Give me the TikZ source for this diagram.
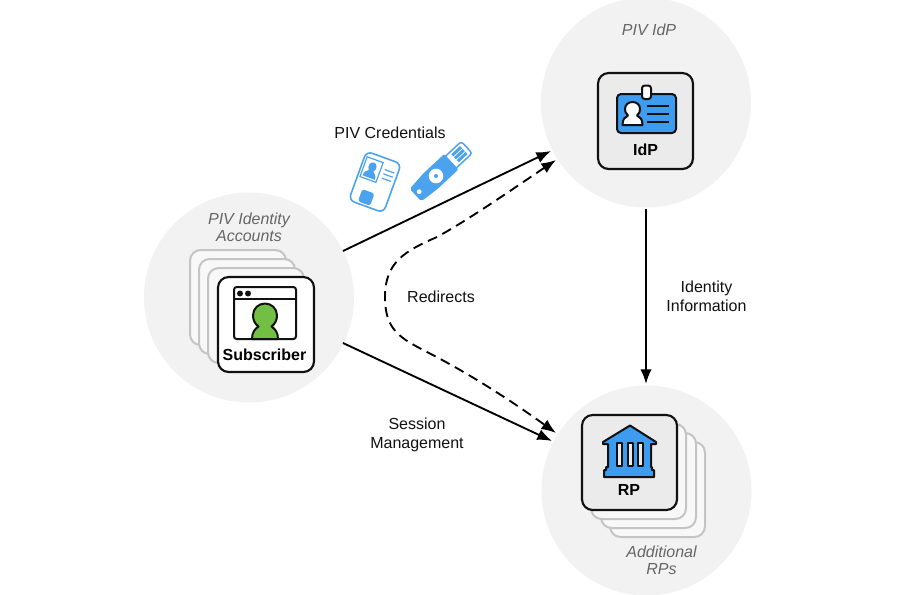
\documentclass[tikz,border=0pt]{standalone}
\usepackage{fontspec}
\setmainfont{Liberation Sans}
\usetikzlibrary{arrows.meta}
\definecolor{halo}{HTML}{F2F2F2}
\definecolor{stack}{HTML}{C4C4C4}
\definecolor{stackfill}{HTML}{F8F8F8}
\definecolor{azure}{HTML}{3D9BF0}
\definecolor{sky}{HTML}{4BA3EE}
\definecolor{leaf}{HTML}{72BF44}
\definecolor{panel}{HTML}{EBEBEB}
\definecolor{ink}{HTML}{111111}
\definecolor{note}{HTML}{666666}
\tikzset{
  x=0.75pt,y=-0.75pt,
  halo/.style={circle,fill=halo,minimum size=157.5pt,inner sep=0pt},
  back/.style={draw=stack,line width=1.5pt,fill=stackfill,rounded corners=8pt},
  front/.style={draw=ink,line width=1.6pt,rounded corners=8pt},
  lbl/.style={font=\fontsize{12}{14.25}\selectfont,align=center,text=ink},
  role/.style={font=\fontsize{12}{12.6}\selectfont\itshape,align=center,text=note},
  boxname/.style={font=\fontsize{12}{14}\selectfont\bfseries,text=black},
  link/.style={draw=black,line width=1.4pt,-{Latex[length=11pt,width=8.5pt]}},
  dlink/.style={link,{Latex[length=11pt,width=8.5pt]}-{Latex[length=11pt,width=8.5pt]},dash pattern=on 7.5pt off 4.5pt},
  icon/.style={draw=ink,line width=1.5pt,line join=round},
  cred/.style={draw=sky,line width=.9pt},
}
\begin{document}
\begin{tikzpicture}
\useasboundingbox (0,0) rectangle (900,594);
\fill[white] (0,0) rectangle (900,594);
\node[halo] (hsub) at (249,297.5) {};
\node[halo] (hidp) at (646,102.5) {};
\node[halo] (hrp) at (646.5,490.5) {};
% subscriber stack
\draw[back] (190,250) rectangle (286,345);
\draw[back] (199,259) rectangle (295,354);
\draw[back] (208,268) rectangle (304,363);
\draw[front,fill=white] (218,277) rectangle (314,372);
\draw[icon,fill=white,rounded corners=2pt] (234,287) rectangle (296,339);
\draw[icon] (234,299) -- (296,299);
\fill[ink] (240,293.5) circle (3) (248,293.5) circle (3);
\draw[icon,fill=leaf] (252,339) .. controls (252,332) and (255,329) .. (258.5,326.5)
  .. controls (255,324) and (253,320) .. (253,315.5) .. controls (253,308.5) and (258.5,303.5) .. (265,303.5)
  .. controls (271.5,303.5) and (277,308.5) .. (277,315.5) .. controls (277,320) and (275,324) .. (271.5,326.5)
  .. controls (275,329) and (278,332) .. (278,339) -- cycle;
\node[boxname] (nsub) at (264.5,354.5) {Subscriber};
% idp
\draw[front,fill=panel] (598,73) rectangle (693,169);
\draw[icon,fill=azure,rounded corners=3pt] (617,94) rectangle (676,133);
\draw[icon,fill=white,rounded corners=2pt] (642,85.5) rectangle (651,99);
\draw[icon,fill=white] (622.5,125) .. controls (622.5,119) and (625,117) .. (628,115.5)
  .. controls (625.5,113.5) and (625,111) .. (625,109) .. controls (625,105) and (628,102) .. (632.5,102)
  .. controls (637,102) and (640,105) .. (640,109) .. controls (640,111) and (639.5,113.5) .. (637,115.5)
  .. controls (640,117) and (642.5,119) .. (642.5,125) -- cycle;
\draw[icon] (647,106) -- (669,106) (647,114) -- (669,114) (647,122) -- (669,122);
\node[boxname] (nidp) at (645.5,149.5) {IdP};
% rp
\draw[back] (610,442) rectangle (705,537);
\draw[back] (601,433) rectangle (696,528);
\draw[back] (591,424) rectangle (686,519);
\draw[front,fill=panel] (582,415) rectangle (677,510);
\draw[icon,fill=azure] (630,425.5) -- (656,442) -- (656,444) -- (651,444) -- (651,467) -- (652,467) -- (652,470) -- (654,470) -- (654,477) -- (604,477) -- (604,470) -- (606,470) -- (606,467) -- (608,467) -- (608,444) -- (603,444) -- (603,442) -- cycle;
\draw[icon,fill=panel] (617,443) rectangle (622,466);
\draw[icon,fill=panel] (627.5,443) rectangle (632.5,466);
\draw[icon,fill=panel] (638,443) rectangle (643,466);
\node[boxname] (nrp) at (629,489.5) {RP};
% texts
\node[role] (tsub) at (249,227) {PIV Identity\\Accounts};
\node[role] (tidp) at (649,30) {PIV IdP};
\node[role] (trp) at (661.5,560.5) {Additional\\RPs};
\node[lbl] (tcred) at (390,133) {PIV Credentials};
\node[lbl] (tred) at (441,296.5) {Redirects};
\node[lbl] (tinfo) at (706.5,296) {Identity\\Information};
\node[lbl] (tsess) at (417,435) {Session\\Management};
% credentials
\begin{scope}[shift={(375,182)},rotate=-20]
\draw[cred,line width=1.2pt,rounded corners=4.5pt] (-18.5,-26) rectangle (18.5,26);
\draw[cred] (-16,-21) rectangle (1,0);
\fill[sky] (-14,-2) .. controls (-14,-6) and (-12,-8) .. (-10,-9) .. controls (-13,-13) and (-11,-18) .. (-7.5,-18) .. controls (-4,-18) and (-2,-13) .. (-5,-9) .. controls (-3,-8) and (-1,-6) .. (-1,-2) -- cycle;
\draw[cred] (5,-15) -- (15,-15) (5,-10.5) -- (15,-10.5) (5,-6) -- (15,-6);
\fill[sky,rounded corners=2pt] (-9.5,11) rectangle (3.5,24);
\end{scope}
\begin{scope}[shift={(436,176)},rotate=43]
\draw[cred,line width=1.1pt,fill=white,rounded corners=2pt] (18,-8) rectangle (42,8);
\fill[sky] (26,-5.5) rectangle (38,-2.5) (26,-1.5) rectangle (38,1.5) (26,2.5) rectangle (38,5.5);
\fill[sky,rounded corners=1.5pt] (-28,-8.5) -- (-8,-10.5) -- (21,-10.5) -- (21,10.5) -- (-8,10.5) -- (-28,8.5) -- cycle;
\fill[white] (0,0) circle (7.3);
\fill[sky] (0,0) circle (2);
\fill[white] (-23,0) circle (2.4);
\end{scope}
% connectors
\coordinate (a1) at (343,251);
\coordinate (a2) at (551,151);
\coordinate (b1) at (343,343);
\coordinate (b2) at (552,441);
\coordinate (c1) at (646,209);
\coordinate (c2) at (646,384);
\coordinate (d1) at (556,160);
\coordinate (d2) at (556,433);
\draw[link] (a1) -- (a2);
\draw[link] (b1) -- (b2);
\draw[link] (c1) -- (c2);
\draw[dlink] (d1) .. controls (520,184) and (470,219) .. (437,237) .. controls (405,251) and (385,262) .. (385,297)
  .. controls (385,330) and (400,338) .. (427,352) .. controls (470,374) and (510,400) .. (d2);
\end{tikzpicture}
\end{document}
